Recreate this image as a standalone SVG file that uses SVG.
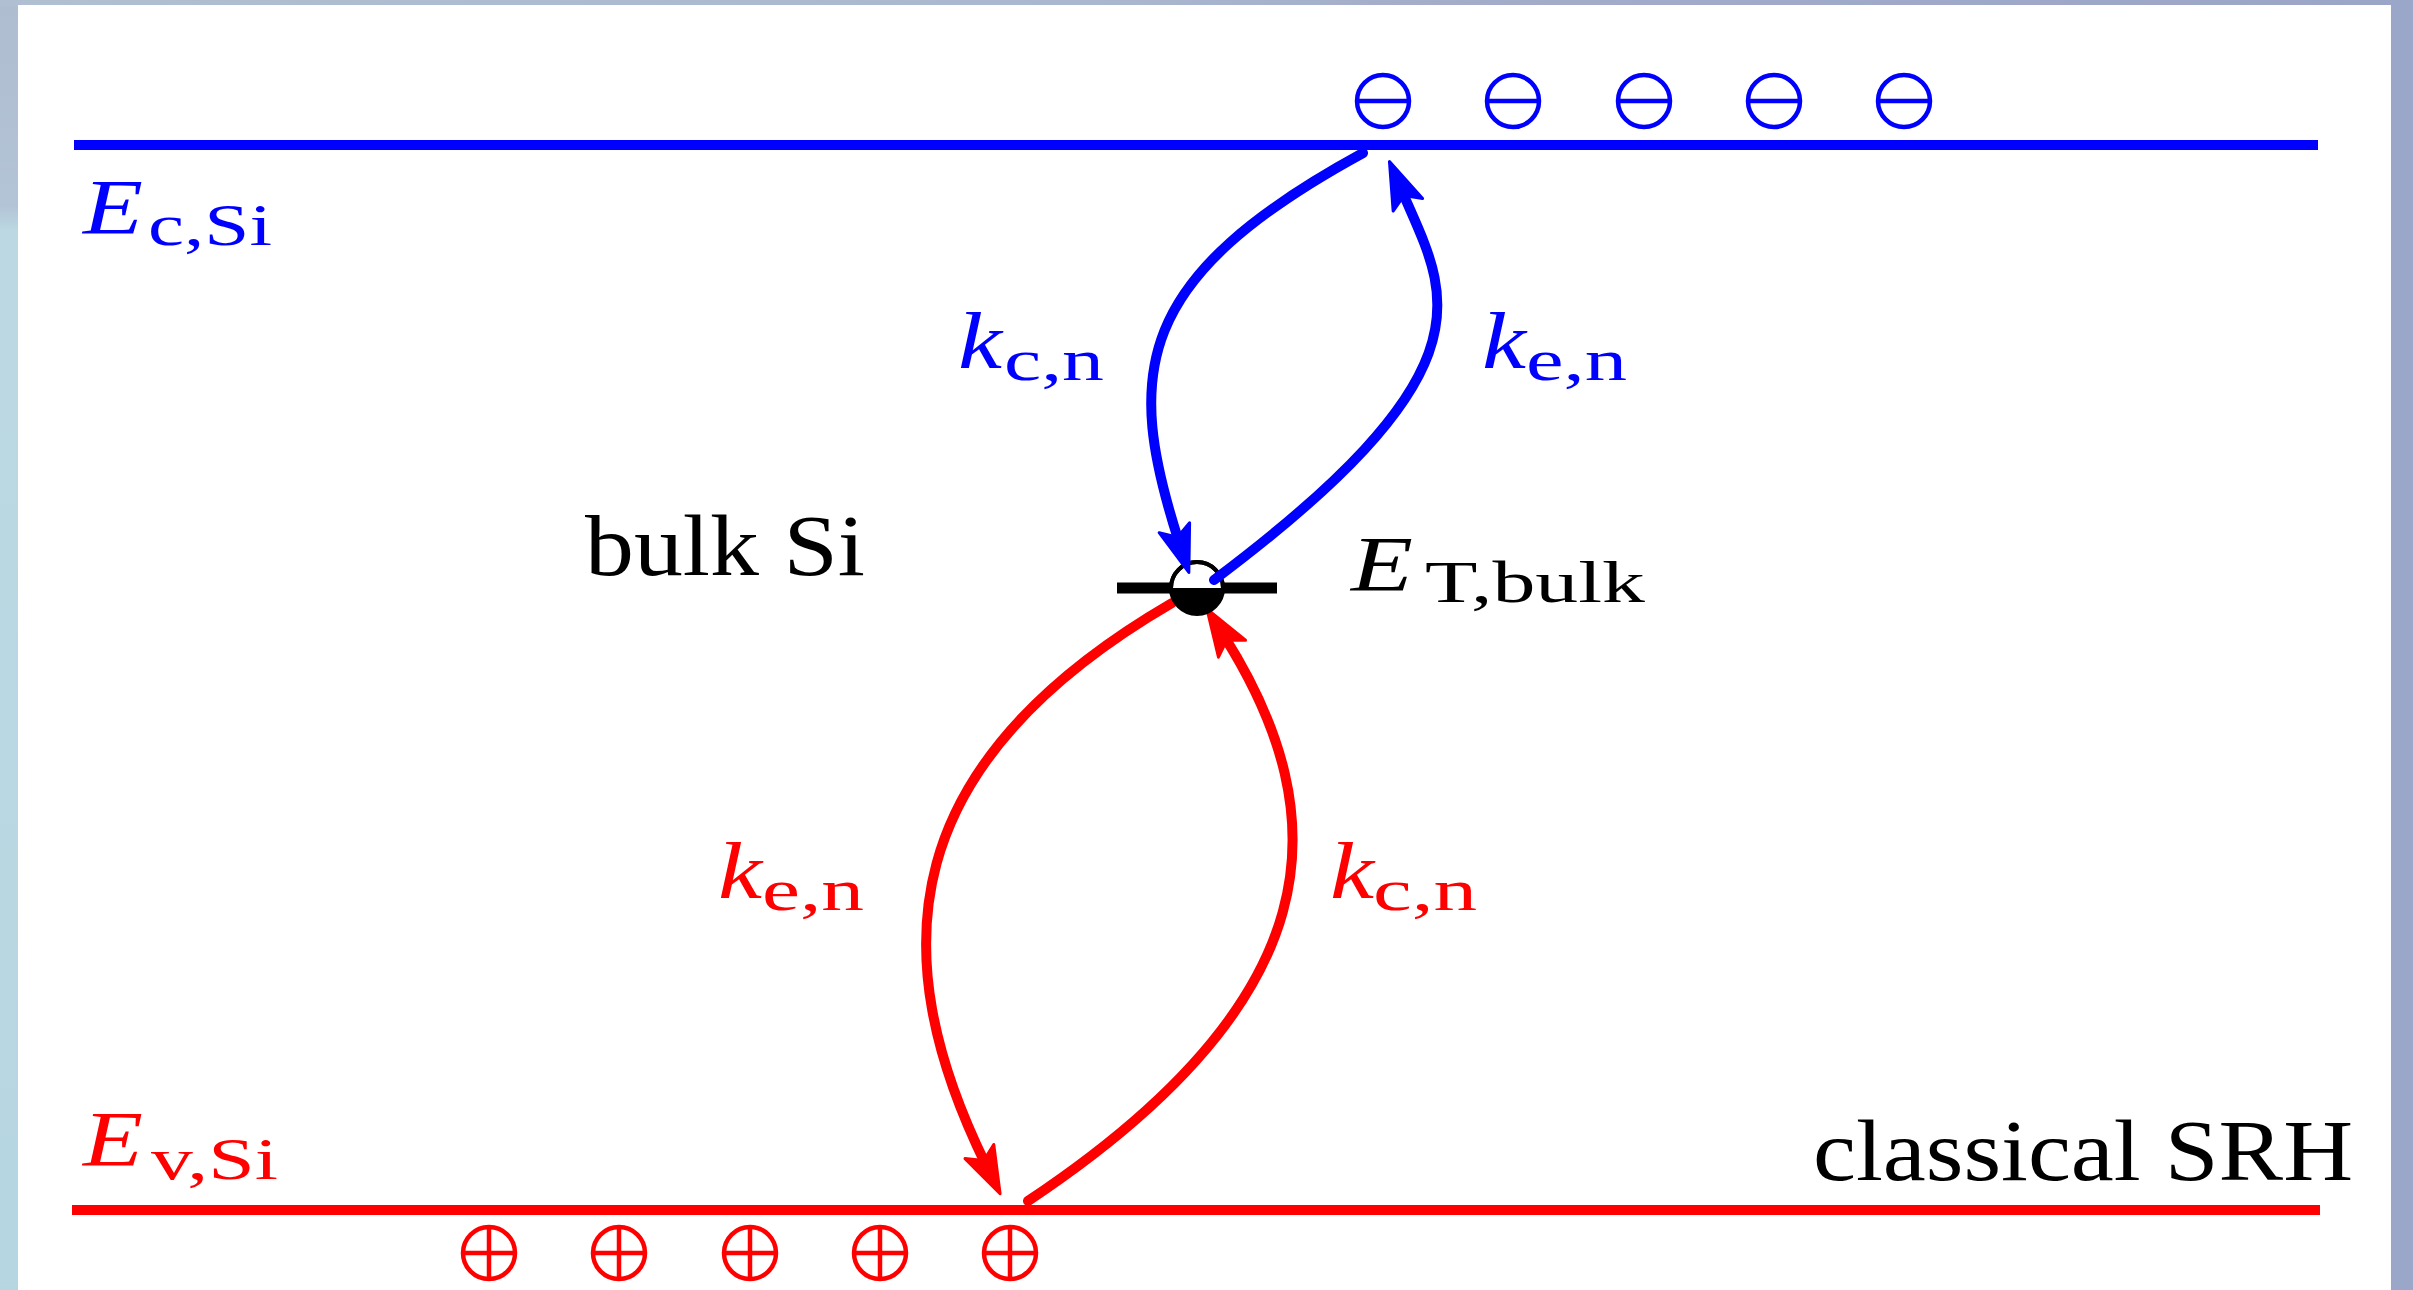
<svg xmlns="http://www.w3.org/2000/svg" width="2413" height="1290" viewBox="0 0 2413 1290">
  <defs>
    <linearGradient id="bgL" x1="0" y1="0" x2="0" y2="1">
      <stop offset="0" stop-color="#aebdcf"/>
      <stop offset="0.16" stop-color="#b3c4d6"/>
      <stop offset="0.18" stop-color="#bcd9e3"/>
      <stop offset="1" stop-color="#b6d6e1"/>
    </linearGradient>
    <linearGradient id="bgT" x1="0" y1="0" x2="1" y2="0">
      <stop offset="0" stop-color="#b0bfd1"/>
      <stop offset="0.45" stop-color="#aab8cf"/>
      <stop offset="0.6" stop-color="#a3acc9"/>
      <stop offset="1" stop-color="#9ba5c7"/>
    </linearGradient>
    <marker id="ahBlue" markerUnits="userSpaceOnUse" viewBox="-55 -22 62 44" markerWidth="62" markerHeight="44" refX="-32" refY="0" orient="auto">
      <path d="M0,0 L-47,-16 L-37,0 L-47,16 Z" fill="#0000ff" stroke="#0000ff" stroke-width="3" stroke-linejoin="round"/>
    </marker>
    <marker id="ahRed" markerUnits="userSpaceOnUse" viewBox="-55 -22 62 44" markerWidth="62" markerHeight="44" refX="-32" refY="0" orient="auto">
      <path d="M0,0 L-47,-16 L-37,0 L-47,16 Z" fill="#ff0000" stroke="#ff0000" stroke-width="3" stroke-linejoin="round"/>
    </marker>
  </defs>
  <style>
    .serif { font-family: "Liberation Serif", "DejaVu Serif", serif; }
    .it { font-style: italic; }
    .blue { fill: #0000ff; }
    .red { fill: #ff0000; }
    .blk { fill: #000000; }
    .main { font-size: 86px; }
    .math { font-size: 79px; }
    .sub { font-size: 60px; }
    .kk { font-size: 80px; }
    .level { stroke-width: 10; fill: none; }
    .arrow { stroke-width: 10; fill: none; stroke-linecap: round; }
    .carrier { fill: none; stroke-width: 4.5; }
  </style>

  <!-- background -->
  <rect x="0" y="0" width="2413" height="1290" fill="url(#bgL)"/>
  <rect x="0" y="0" width="2413" height="6" fill="url(#bgT)"/>
  <rect x="2390" y="0" width="23" height="1290" fill="#9aa7c8"/>
  <rect x="18" y="5" width="2373" height="1285" fill="#ffffff"/>

  <!-- band edges -->
  <g id="conduction-band">
    <line class="level" x1="74" y1="145" x2="2318" y2="145" stroke="#0000ff"/>
    <text class="serif it math blue" x="83" y="233" textLength="60" lengthAdjust="spacingAndGlyphs">E</text>
    <text class="serif sub blue" x="148" y="245" textLength="124" lengthAdjust="spacingAndGlyphs">c,Si</text>
  </g>
  <g id="valence-band">
    <line class="level" x1="72" y1="1210" x2="2320" y2="1210" stroke="#ff0000"/>
    <text class="serif it math red" x="83" y="1165" textLength="60" lengthAdjust="spacingAndGlyphs">E</text>
    <text class="serif sub red" x="151" y="1179" textLength="127" lengthAdjust="spacingAndGlyphs">v,Si</text>
  </g>

  <!-- electrons -->
  <g id="electrons" stroke="#0000ff" class="carrier">
    <g><circle cx="1383" cy="101" r="26"/><line x1="1357" y1="101" x2="1409" y2="101"/></g>
    <g><circle cx="1513" cy="101" r="26"/><line x1="1487" y1="101" x2="1539" y2="101"/></g>
    <g><circle cx="1644" cy="101" r="26"/><line x1="1618" y1="101" x2="1670" y2="101"/></g>
    <g><circle cx="1774" cy="101" r="26"/><line x1="1748" y1="101" x2="1800" y2="101"/></g>
    <g><circle cx="1904" cy="101" r="26"/><line x1="1878" y1="101" x2="1930" y2="101"/></g>
  </g>

  <!-- holes -->
  <g id="holes" stroke="#ff0000" class="carrier">
    <g><circle cx="489" cy="1253" r="26"/><line x1="463" y1="1253" x2="515" y2="1253"/><line x1="489" y1="1227" x2="489" y2="1279"/></g>
    <g><circle cx="619" cy="1253" r="26"/><line x1="593" y1="1253" x2="645" y2="1253"/><line x1="619" y1="1227" x2="619" y2="1279"/></g>
    <g><circle cx="750" cy="1253" r="26"/><line x1="724" y1="1253" x2="776" y2="1253"/><line x1="750" y1="1227" x2="750" y2="1279"/></g>
    <g><circle cx="880" cy="1253" r="26"/><line x1="854" y1="1253" x2="906" y2="1253"/><line x1="880" y1="1227" x2="880" y2="1279"/></g>
    <g><circle cx="1010" cy="1253" r="26"/><line x1="984" y1="1253" x2="1036" y2="1253"/><line x1="1010" y1="1227" x2="1010" y2="1279"/></g>
  </g>

  <!-- red connectors (below trap) -->
  <g id="connectors-red">
    <path class="arrow" stroke="#ff0000" d="M1172,603 C897,763 881,951 986,1165" marker-end="url(#ahRed)"/>
    <path class="arrow" stroke="#ff0000" d="M1028,1201 C1330,1000 1340,820 1224,636" marker-end="url(#ahRed)"/>
  </g>

  <!-- trap level -->
  <g id="trap">
    <line x1="1117" y1="588" x2="1277" y2="588" stroke="#000" stroke-width="11"/>
    <path d="M1171,588 A26,26 0 0 0 1223,588 Z" fill="#000"/>
    <path d="M1171,588 A26,26 0 0 1 1223,588" fill="#fff" stroke="#000" stroke-width="4"/>
    <circle cx="1197" cy="588" r="26" fill="none" stroke="#000" stroke-width="4"/>
    <text class="serif it math blk" x="1351" y="590" textLength="62" lengthAdjust="spacingAndGlyphs">E</text>
    <text class="serif sub blk" x="1425" y="602" textLength="220" lengthAdjust="spacingAndGlyphs">T,bulk</text>
  </g>

  <!-- blue connectors -->
  <g id="connectors-blue">
    <path class="arrow" stroke="#0000ff" d="M1363,153 C1134,278 1124,372 1179,542" marker-end="url(#ahBlue)"/>
    <path class="arrow" stroke="#0000ff" d="M1214,580 C1502,364 1445,292 1402,191" marker-end="url(#ahBlue)"/>
  </g>

  <!-- rate labels -->
  <g id="label-kcn-blue">
    <text class="serif it kk blue" x="958" y="368" textLength="44" lengthAdjust="spacingAndGlyphs">k</text>
    <text class="serif sub blue" x="1004" y="380" textLength="100" lengthAdjust="spacingAndGlyphs">c,n</text>
  </g>
  <g id="label-ken-blue">
    <text class="serif it kk blue" x="1482" y="368" textLength="44" lengthAdjust="spacingAndGlyphs">k</text>
    <text class="serif sub blue" x="1526" y="380" textLength="101" lengthAdjust="spacingAndGlyphs">e,n</text>
  </g>
  <g id="label-ken-red">
    <text class="serif it kk red" x="718" y="898" textLength="44" lengthAdjust="spacingAndGlyphs">k</text>
    <text class="serif sub red" x="762" y="910" textLength="102" lengthAdjust="spacingAndGlyphs">e,n</text>
  </g>
  <g id="label-kcn-red">
    <text class="serif it kk red" x="1330" y="898" textLength="44" lengthAdjust="spacingAndGlyphs">k</text>
    <text class="serif sub red" x="1373" y="910" textLength="104" lengthAdjust="spacingAndGlyphs">c,n</text>
  </g>

  <!-- region labels -->
  <g id="label-bulk">
    <text class="serif main blk" x="585" y="575" textLength="280" lengthAdjust="spacingAndGlyphs">bulk Si</text>
  </g>
  <g id="label-srh">
    <text class="serif main blk" x="1813" y="1180" textLength="540" lengthAdjust="spacingAndGlyphs">classical SRH</text>
  </g>
</svg>
